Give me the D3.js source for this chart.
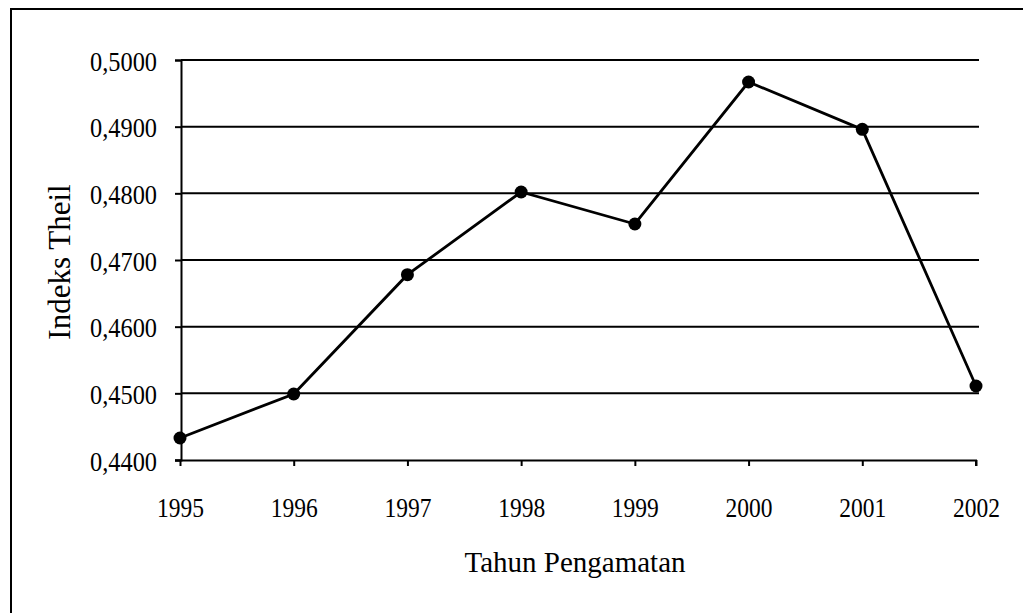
<!DOCTYPE html>
<html>
<head>
<meta charset="utf-8">
<script src="https://cdn.jsdelivr.net/npm/d3@7"></script>
<style>
  html, body { margin: 0; padding: 0; background: #fff; }
  svg { display: block; }
  text { font-family: "Liberation Serif", "Times New Roman", serif; fill: #000; }
</style>
</head>
<body>
<svg id="chart" width="1024" height="613"></svg>
<script>
const years = ["1995", "1996", "1997", "1998", "1999", "2000", "2001", "2002"];
const theilValues = [0.4433, 0.4499, 0.4678, 0.4802, 0.4754, 0.4967, 0.4896, 0.4511];
const yTicks = [0.44, 0.45, 0.46, 0.47, 0.48, 0.49, 0.50];
const xTitle = "Tahun Pengamatan";
const yTitle = "Indeks Theil";

const svg = d3.select("#chart");
const pLeft = 181, pRight = 976, pTop = 60, pBottom = 460;

const x = d3.scalePoint().domain(years).range([pLeft - 1, pRight]);
const y = d3.scaleLinear().domain([0.44, 0.50]).range([pBottom, pTop]);
const fmt = v => d3.format(".4f")(v).replace(".", ",");

// outer border (top and left visible)
svg.append("path")
  .attr("d", `M11,613 L11,9 L1023,9`)
  .attr("fill", "none").attr("stroke", "#000").attr("stroke-width", 2);

// gridlines
svg.append("g").selectAll("line").data(yTicks.filter(v => v > 0.44)).join("line")
  .attr("x1", pLeft).attr("x2", pRight + 3)
  .attr("y1", d => y(d)).attr("y2", d => y(d))
  .attr("stroke", "#000").attr("stroke-width", 2);

// y axis
const yAxis = svg.append("g").attr("transform", `translate(${pLeft},0)`)
  .call(d3.axisLeft(y).tickValues(yTicks).tickFormat(fmt).tickSize(6).tickPadding(18));
yAxis.select(".domain").attr("stroke-width", 2);
yAxis.selectAll(".tick line").attr("stroke-width", 2);
yAxis.selectAll(".tick text").attr("font-size", 27).attr("font-family", "Liberation Serif")
  .attr("dy", "0.37em").attr("textLength", 67).attr("lengthAdjust", "spacingAndGlyphs");

// x axis
const xAxis = svg.append("g").attr("transform", `translate(0,${pBottom})`)
  .call(d3.axisBottom(x).tickSize(6));
xAxis.select(".domain").attr("d", `M${pLeft - 6},0.5H${pRight}V6`).attr("stroke-width", 2);
xAxis.selectAll(".tick line").attr("stroke-width", 2);
xAxis.selectAll(".tick text").attr("font-size", 27).attr("font-family", "Liberation Serif")
  .attr("dy", "0").attr("y", 57).attr("textLength", 47).attr("lengthAdjust", "spacingAndGlyphs");

// line
const line = d3.line().x((d, i) => x(years[i])).y(d => y(d));
svg.append("path").datum(theilValues)
  .attr("d", line).attr("fill", "none").attr("stroke", "#000").attr("stroke-width", 2.8);

svg.append("g").selectAll("circle").data(theilValues).join("circle")
  .attr("cx", (d, i) => x(years[i])).attr("cy", d => y(d)).attr("r", 6.5).attr("fill", "#000");

// titles
svg.append("text").attr("x", 575).attr("y", 572).attr("text-anchor", "middle")
  .attr("font-size", 29).text(xTitle);
svg.append("text").attr("transform", "translate(70,262) rotate(-90)")
  .attr("text-anchor", "middle").attr("font-size", 31).text(yTitle);
</script>
</body>
</html>
